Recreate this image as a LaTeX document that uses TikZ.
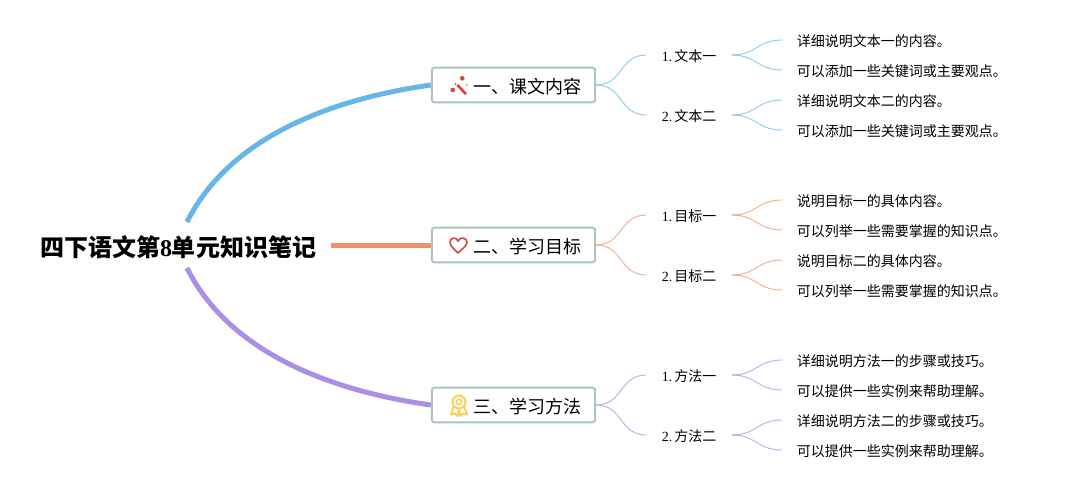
\documentclass[tikz,border=0pt]{standalone}
\usepackage{fontspec}
\setmainfont{Liberation Serif}
\newfontfamily\cjk{Noto Sans CJK SC}
\usepackage{xcolor}
\definecolor{blueline}{RGB}{104, 182, 232}
\definecolor{orangeline}{RGB}{238, 146, 104}
\definecolor{purpleline}{RGB}{170, 143, 228}
\definecolor{boxline}{RGB}{168, 200, 190}
\definecolor{iconred}{RGB}{208, 72, 58}
\definecolor{iconyellow}{RGB}{248, 208, 90}
\newcommand{\zh}[1]{{\cjk #1}}
\begin{document}
\begin{tikzpicture}[
    x=0.75pt,y=-0.75pt,
    rootnode/.style={font=\fontsize{18}{22}\selectfont\bfseries, inner sep=0pt},
    topic/.style={
        rectangle,
        rounded corners=2.2pt,
        minimum width=122.5pt,
        minimum height=26.2pt,
        inner sep=0pt,
        fill=white,
        draw=boxline,
        line width=1.5pt
    },
    topictext/.style={font=\fontsize{13.5}{16}\selectfont, anchor=west, inner sep=0pt},
    item/.style={minimum width=63.75pt, inner xsep=0pt, inner ysep=0pt, text height=12.2pt, text depth=2pt, font=\fontsize{10.5}{13}\selectfont},
    leaf/.style={anchor=west, inner xsep=10.9pt, inner ysep=0pt, text height=12.2pt, text depth=2pt, font=\fontsize{10.5}{13}\selectfont},
    thick line/.style={line width=3.75pt},
    thin line/.style={line width=0.75pt, opacity=0.7}
]
    % Root
    \useasboundingbox (0,0) rectangle (1067,490);
    \node[rootnode] (root) at (178,247.5) {\zh{四下语文第}8\zh{单元知识笔记}};
    \coordinate (rootup) at (187,222);
    \coordinate (rootright) at (331,245);
    \coordinate (rootdown) at (187,268);

    % Topics
    \node[topic] (les) at (513.5,85) {};
    \node[topic] (aim) at (513.5,245) {};
    \node[topic] (way) at (513.5,405) {};
    \node[topictext] (lestext) at (473,86.5) {\zh{一、课文内容}};
    \node[topictext] (aimtext) at (473,246.5) {\zh{二、学习目标}};
    \node[topictext] (waytext) at (473,406.5) {\zh{三、学习方法}};

    % Items
    \node[item] (les1) at (689,55) {1.\hspace{1.5pt}\zh{文本一}};
    \node[item] (les2) at (689,115) {2.\hspace{1.5pt}\zh{文本二}};
    \node[item] (aim1) at (689,215) {1.\hspace{1.5pt}\zh{目标一}};
    \node[item] (aim2) at (689,275) {2.\hspace{1.5pt}\zh{目标二}};
    \node[item] (way1) at (689,375) {1.\hspace{1.5pt}\zh{方法一}};
    \node[item] (way2) at (689,435) {2.\hspace{1.5pt}\zh{方法二}};

    % Leaves
    \node[leaf] (les1a) at (782,40) {\zh{详细说明文本一的内容。}};
    \node[leaf] (les1b) at (782,70) {\zh{可以添加一些关键词或主要观点。}};
    \node[leaf] (les2a) at (782,100) {\zh{详细说明文本二的内容。}};
    \node[leaf] (les2b) at (782,130) {\zh{可以添加一些关键词或主要观点。}};
    \node[leaf] (aim1a) at (782,200) {\zh{说明目标一的具体内容。}};
    \node[leaf] (aim1b) at (782,230) {\zh{可以列举一些需要掌握的知识点。}};
    \node[leaf] (aim2a) at (782,260) {\zh{说明目标二的具体内容。}};
    \node[leaf] (aim2b) at (782,290) {\zh{可以列举一些需要掌握的知识点。}};
    \node[leaf] (way1a) at (782,360) {\zh{详细说明方法一的步骤或技巧。}};
    \node[leaf] (way1b) at (782,390) {\zh{可以提供一些实例来帮助理解。}};
    \node[leaf] (way2a) at (782,420) {\zh{详细说明方法二的步骤或技巧。}};
    \node[leaf] (way2b) at (782,450) {\zh{可以提供一些实例来帮助理解。}};

    % Main branches
    \draw[thick line, blueline] (rootup) .. controls (228,140) and (325,100) .. (les.west);
    \draw[thick line, orangeline] (rootright) -- (aim.west);
    \draw[thick line, purpleline] (rootdown) .. controls (228,350) and (325,390) .. (way.west);

    % Branches to items
    \foreach \t/\c in {les/blueline,aim/orangeline,way/purpleline}{
        \foreach \i in {1,2}{
            \draw[thin line, \c] (\t.east) .. controls +(27,0) and +(-27,0) .. (\t\i.west);
            \draw[thin line, \c] (\t\i.east) .. controls +(25,0) and +(-25,0) .. (\t\i a.west);
            \draw[thin line, \c] (\t\i.east) .. controls +(25,0) and +(-25,0) .. (\t\i b.west);
        }
    }

    % Icons
    \draw[iconred, line width=2pt] (457.3,85) -- (466,94);
    \fill[iconred] (452.7,90) circle[radius=2.3];
    \fill[iconred] (462.3,78.3) circle[radius=2.3];
    \fill[iconred] (455.7,84) circle[radius=1];
    \fill[iconred] (466.7,85) circle[radius=0.8];
    \draw[iconred, line width=1.2pt, line join=round]
        (458,253) .. controls (454,249) and (450,246) .. (450,242)
        .. controls (450,238) and (456,236) .. (458,241)
        .. controls (460,236) and (467,238) .. (467,242)
        .. controls (467,246) and (462,249) .. (458,253) -- cycle;
    \draw[iconyellow, line width=1.5pt] (459,402) circle[radius=6.5];
    \draw[iconyellow, line width=1.2pt] (459,402) circle[radius=2.8];
    \draw[iconyellow, line width=1.5pt, line join=round] (453.5,407) -- (451,414.5) -- (455,413.5) -- (457.5,416) -- (459,410) -- (460.5,416) -- (463,413.5) -- (467,414.5) -- (464.5,407);
\end{tikzpicture}
\end{document}
